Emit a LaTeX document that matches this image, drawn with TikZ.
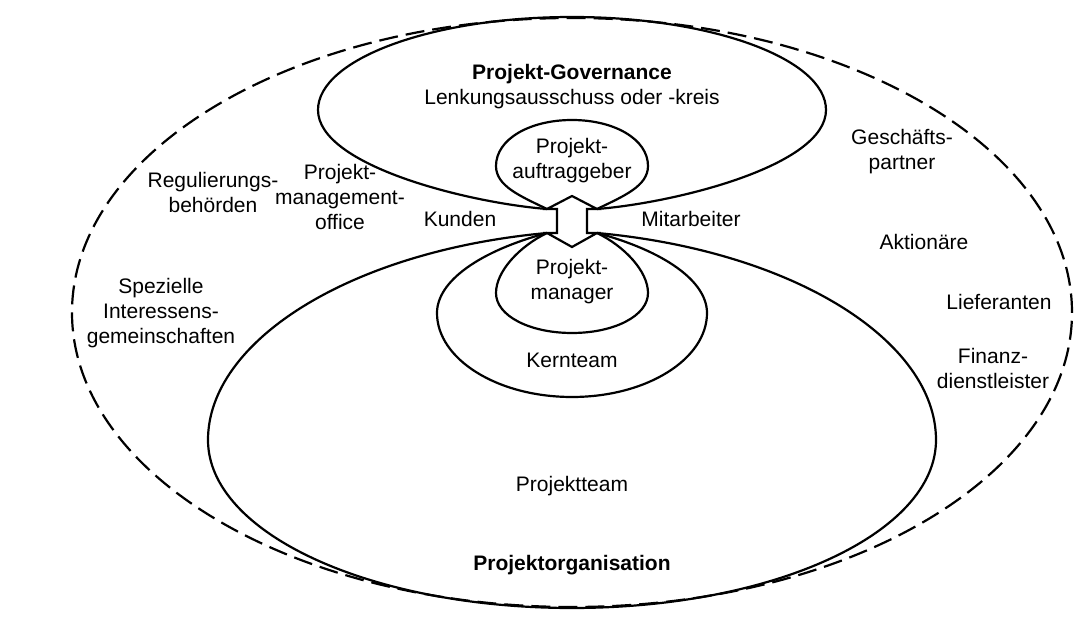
\documentclass[tikz,border=0pt]{standalone}
\usepackage{fontspec}
\setmainfont{Liberation Sans}
\usetikzlibrary{positioning}

\begin{document}
\begin{tikzpicture}[
  x=1pt, y=1pt,
  every node/.style={font=\fontsize{21}{25}\selectfont},
  label/.style={align=center, inner sep=0pt},
  title/.style={label, font=\fontsize{21}{25}\selectfont\bfseries},
  ring/.style={line width=2.2pt},
  outer/.style={line width=2.2pt, dash pattern=on 19pt off 8pt}
]
  \useasboundingbox (0,0) rectangle (1088,621);

  % junction points of the link
  \coordinate (jtl) at (547,412);
  \coordinate (jtr) at (597,412);
  \coordinate (jbl) at (547,388);
  \coordinate (jbr) at (597,388);

  % stakeholder environment
  \draw[outer] (572,308.5) ellipse [x radius=500, y radius=294.5];

  % governance
  \draw[ring] (jtl) .. controls (470,418) and (318,455) .. (318,511)
    .. controls (318,562) and (432,604) .. (572,604)
    .. controls (712,604) and (826,562) .. (826,511)
    .. controls (826,455) and (674,418) .. (jtr);
  \draw[ring] (jtl) .. controls (520,425) and (496,435) .. (496,455)
    .. controls (496,482) and (530,501) .. (572,501)
    .. controls (614,501) and (648,482) .. (648,455)
    .. controls (648,435) and (624,425) .. (jtr);

  % project organisation
  \draw[ring] (jbl) .. controls (520,375) and (496,350) .. (496,328)
    .. controls (496,305) and (530,288) .. (572,288)
    .. controls (614,288) and (648,305) .. (648,328)
    .. controls (648,350) and (624,375) .. (jbr);
  \draw[ring] (jbl) .. controls (480,370) and (437,340) .. (437,308)
    .. controls (437,262) and (497,224) .. (572,224)
    .. controls (647,224) and (707,262) .. (707,308)
    .. controls (707,340) and (664,370) .. (jbr);
  \draw[ring] (jbl) .. controls (350,370) and (208,280) .. (208,181)
    .. controls (208,88) and (370,13) .. (572,13)
    .. controls (774,13) and (936,88) .. (936,181)
    .. controls (936,280) and (794,370) .. (jbr);

  % link between governance and organisation
  \draw[ring, fill=white, line join=miter] (jtl) -- (557,412) -- (557,388) -- (jbl)
    -- (572,374) -- (jbr) -- (587,388) -- (587,412) -- (jtr) -- (572,425) -- cycle;

  \node[label] (gov) at (572,534) {\textbf{Projekt-Governance}\\Lenkungsausschuss oder -kreis};
  \node[label] (ag) at (572,460) {Projekt-\\auftraggeber};
  \node[label] (pm) at (572,339) {Projekt-\\manager};
  \node[label] (kt) at (572,261) {Kernteam};
  \node[label] (pt) at (572,135) {Projektteam};
  \node[title] (porg) at (572,56) {Projektorganisation};
  \node[label] (kunden) at (460,402) {Kunden};
  \node[label] (mit) at (691,402) {Mitarbeiter};
  \node[label] (pmo) at (340,424) {Projekt-\\management-\\office};
  \node[label] (reg) at (213,428) {Regulierungs-\\behörden};
  \node[label] (spez) at (161,308) {Spezielle\\Interessens-\\gemeinschaften};
  \node[label] (gp) at (902,469) {Geschäfts-\\partner};
  \node[label] (akt) at (924,379) {Aktionäre};
  \node[label] (lief) at (999,319) {Lieferanten};
  \node[label] (fin) at (993,253) {Finanz-\\dienstleister};
\end{tikzpicture}
\end{document}
